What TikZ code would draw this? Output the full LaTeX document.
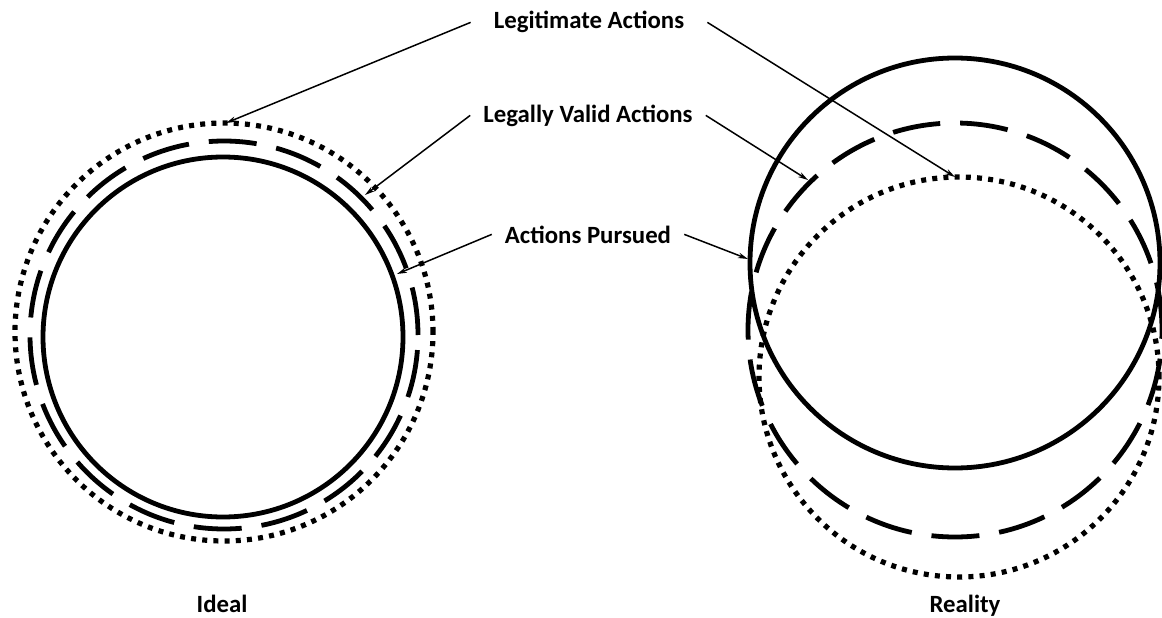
\documentclass[tikz,border=0pt]{standalone}
\usepackage{fontspec}
\setmainfont{Carlito}
\usetikzlibrary{arrows.meta}
\begin{document}
\begin{tikzpicture}[x=1pt,y=-1pt,
  lbl/.style={font=\fontsize{24.8}{28}\selectfont\bfseries, inner ysep=0pt},
  solidring/.style={line width=4.8pt},
  dashring/.style={line width=4.8pt, dash pattern=on 48pt off 20pt},
  dotring/.style={line width=5.2pt, dash pattern=on 5pt off 6.2pt},
  pointer/.style={line width=1.5pt, -{Stealth[length=10pt,width=5.5pt]}}
]
\useasboundingbox[fill=white] (0,0) rectangle (1162,618);

% Ideal
\draw[solidring] (223,337) circle[radius=180pt];
\draw[dashring]  (224,335) circle[radius=194pt];
\draw[dotring]   (224,332) circle[radius=209pt];

% Reality
\draw[solidring] (955,263) circle[radius=205pt];
\draw[dashring]  (955,330) circle[radius=207pt];
\draw[dotring]   (959,377) circle[radius=200pt];

% labels
\node[lbl, inner xsep=23pt, anchor=base] (legit) at (589,29) {Legitimate Actions};
\node[lbl, inner xsep=13pt, anchor=base] (valid) at (588,122) {Legally Valid Actions};
\node[lbl, inner xsep=13pt, anchor=base] (pursued) at (588,243) {Actions Pursued};
\node[lbl, anchor=base] (ideal) at (222,612) {Ideal};
\node[lbl, anchor=base] (reality) at (965,612) {Reality};

% arrow tips
\coordinate (tipLegL) at (226,123);
\coordinate (tipValL) at (365,195);
\coordinate (tipPurL) at (397,274);
\coordinate (tipLegR) at (955,177);
\coordinate (tipValR) at (808,180);
\coordinate (tipPurR) at (748,259);

\draw[pointer] (legit.west) -- (tipLegL);
\draw[pointer] (valid.west) -- (tipValL);
\draw[pointer] (pursued.west) -- (tipPurL);
\draw[pointer] (legit.east) -- (tipLegR);
\draw[pointer] (valid.east) -- (tipValR);
\draw[pointer] (pursued.east) -- (tipPurR);
\end{tikzpicture}
\end{document}
